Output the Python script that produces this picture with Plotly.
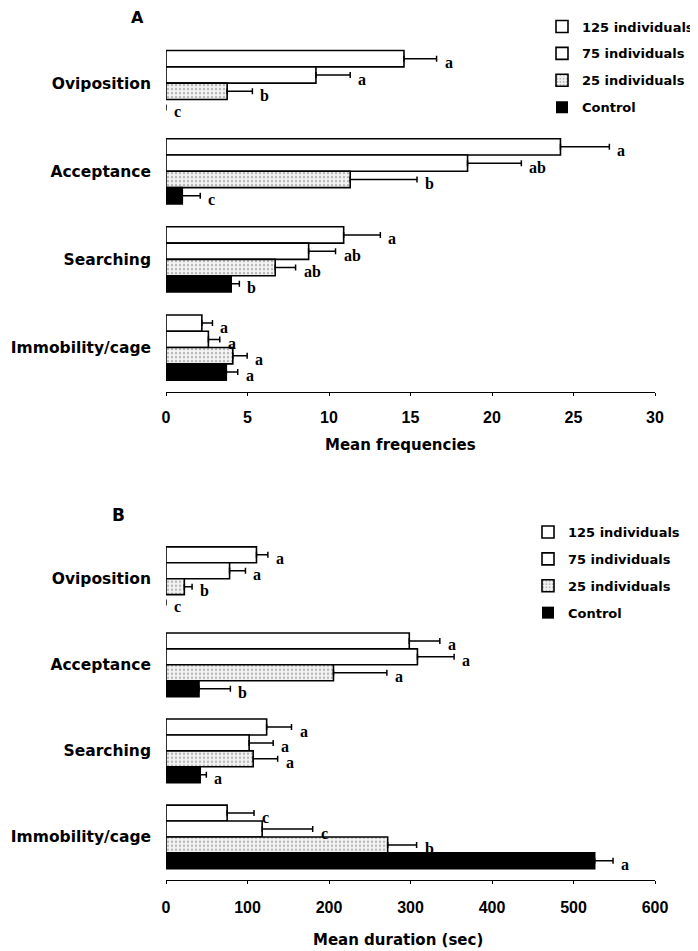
import plotly.graph_objects as go

# ---------------- data ----------------
categories = ["Oviposition", "Acceptance", "Searching", "Immobility/cage"]
series = ["125 individuals", "75 individuals", "25 individuals", "Control"]

# Panel A: mean frequencies (+ SE)
freq_125 = [14.6, 24.2, 10.9, 2.2]
freq_125_err = [2.0, 3.0, 2.25, 0.65]
freq_75 = [9.2, 18.5, 8.75, 2.6]
freq_75_err = [2.1, 3.3, 1.65, 0.7]
freq_25 = [3.75, 11.3, 6.7, 4.1]
freq_25_err = [1.55, 4.1, 1.25, 0.88]
freq_ctl = [0, 1.0, 4.0, 3.7]
freq_ctl_err = [0, 1.1, 0.5, 0.7]
freq_letters_125 = ["a", "a", "a", "a"]
freq_letters_75 = ["a", "ab", "ab", "a"]
freq_letters_25 = ["b", "b", "ab", "a"]
freq_letters_ctl = ["c", "c", "b", "a"]

# Panel B: mean duration (sec) (+ SE)
dur_125 = [111, 298.5, 123.5, 75]
dur_125_err = [14, 37.5, 30.5, 33]
dur_75 = [78, 308.5, 102, 118]
dur_75_err = [19.5, 45, 29.5, 62]
dur_25 = [22.5, 205.5, 107, 272]
dur_25_err = [9.5, 65.5, 30, 35.5]
dur_ctl = [0, 40.5, 42, 526]
dur_ctl_err = [0, 38.5, 7.5, 22.5]
dur_letters_125 = ["a", "a", "a", "c"]
dur_letters_75 = ["a", "a", "a", "c"]
dur_letters_25 = ["b", "a", "a", "b"]
dur_letters_ctl = ["c", "b", "a", "a"]

x_ticks_A = [0, 5, 10, 15, 20, 25, 30]
x_ticks_B = [0, 100, 200, 300, 400, 500, 600]

# ---------------- layout helpers ----------------
W, H = 698, 951
OFF = 8  # page body margin of the browser


def px_x(p):
    return (p - OFF) / W


def px_y(p):
    return 1 - (p - OFF) / H


BARGAP = 0.26
bw = (1 - BARGAP) / 4.0

styles = [
    dict(color="white"),
    dict(color="white"),
    dict(color="#f4f4f4",
         pattern=dict(shape=".", fgcolor="#7a7a7a", bgcolor="#f4f4f4", size=4, solidity=0.3)),
    dict(color="black"),
]

panelA = [(freq_125, freq_125_err, freq_letters_125),
          (freq_75, freq_75_err, freq_letters_75),
          (freq_25, freq_25_err, freq_letters_25),
          (freq_ctl, freq_ctl_err, freq_letters_ctl)]
panelB = [(dur_125, dur_125_err, dur_letters_125),
          (dur_75, dur_75_err, dur_letters_75),
          (dur_25, dur_25_err, dur_letters_25),
          (dur_ctl, dur_ctl_err, dur_letters_ctl)]

fig = go.Figure()
annotations = []

LETTER_FONT = dict(family="Liberation Serif", size=16, color="black")

for panel, xa, ya, leg, tag in [(panelA, "x", "y", "legend", "A"), (panelB, "x2", "y2", "legend2", "B")]:
    for k, (vals, errs, letters) in enumerate(panel):
        marker = dict(styles[k])
        marker["line"] = dict(color="black", width=[1.6 if v > 0 else 0 for v in vals])
        fig.add_trace(go.Bar(
            y=categories, x=vals, orientation="h", name=series[k],
            marker=marker, xaxis=xa, yaxis=ya, legend=leg,
            legendgroup=tag + str(k),
            error_x=dict(type="data", array=[e if v > 0 else None for v, e in zip(vals, errs)],
                         arrayminus=[0 if v > 0 else None for v in vals], symmetric=False,
                         color="black", thickness=1.5, width=3),
        ))
        for i, (v, e, t) in enumerate(zip(vals, errs, letters)):
            annotations.append(dict(
                x=v + e, y=i + (k - 1.5) * bw, xref=xa, yref=ya, text="<b>" + t + "</b>",
                showarrow=False, xanchor="left", yanchor="middle", xshift=6, yshift=-4,
                font=LETTER_FONT,
            ))

X0, X1 = px_x(166), px_x(655)
A_top, A_bot = 39.1, 391.6
B_top, B_bot = 535.7, 880.0

cat_font = dict(family="DejaVu Sans", size=15.5, color="black", weight="bold")
tick_font = dict(family="Liberation Sans", size=16, color="black", weight="bold")


def xaxis_cfg(rng, ticks, anchor, standoff):
    return dict(domain=[X0, X1], range=rng, tickvals=ticks, anchor=anchor,
                showline=True, linecolor="black", linewidth=1, ticks="outside", ticklen=3,
                tickcolor="black", showgrid=False, zeroline=False, tickfont=tick_font,
                ticklabelstandoff=standoff, automargin=False, fixedrange=True)


def yaxis_cfg(anchor, ytop, ybot):
    return dict(domain=[px_y(ybot), px_y(ytop)], type="category", categoryarray=categories,
                categoryorder="array", autorange="reversed", anchor=anchor, showline=False,
                ticks="", showgrid=False, zeroline=False, tickfont=cat_font,
                ticklabelstandoff=14, automargin=False)


legend_common = dict(font=dict(family="DejaVu Sans", size=13, color="black", weight="bold"),
                     traceorder="grouped", tracegroupgap=7, bgcolor="rgba(0,0,0,0)",
                     borderwidth=0, xanchor="left", yanchor="top", itemclick=False)

annotations += [
    dict(x=px_x(400), y=px_y(445), xref="paper", yref="paper", text="<b>Mean frequencies</b>",
         showarrow=False, xanchor="center", yanchor="middle",
         font=dict(family="DejaVu Sans", size=15, color="black")),
    dict(x=px_x(398), y=px_y(940), xref="paper", yref="paper", text="<b>Mean duration (sec)</b>",
         showarrow=False, xanchor="center", yanchor="middle",
         font=dict(family="DejaVu Sans", size=15, color="black")),
    dict(x=px_x(137), y=px_y(17), xref="paper", yref="paper", text="<b>A</b>",
         showarrow=False, xanchor="center", yanchor="middle",
         font=dict(family="DejaVu Sans", size=16, color="black")),
    dict(x=px_x(119), y=px_y(515), xref="paper", yref="paper", text="<b>B</b>",
         showarrow=False, xanchor="center", yanchor="middle",
         font=dict(family="DejaVu Sans", size=17, color="black")),
]

fig.update_layout(
    width=W, height=H,
    margin=dict(l=0, r=0, t=0, b=0),
    paper_bgcolor="white", plot_bgcolor="white",
    barmode="group", bargap=BARGAP, bargroupgap=0,
    xaxis=xaxis_cfg([0, 30], x_ticks_A, "y", 8),
    yaxis=yaxis_cfg("x", A_top, A_bot),
    xaxis2=xaxis_cfg([0, 600], x_ticks_B, "y2", 10),
    yaxis2=yaxis_cfg("x2", B_top, B_bot),
    legend=dict(x=px_x(542), y=px_y(11.5), **legend_common),
    legend2=dict(x=px_x(528), y=px_y(517), **legend_common),
    annotations=annotations,
    showlegend=True,
)

fig.write_html("out.html")
